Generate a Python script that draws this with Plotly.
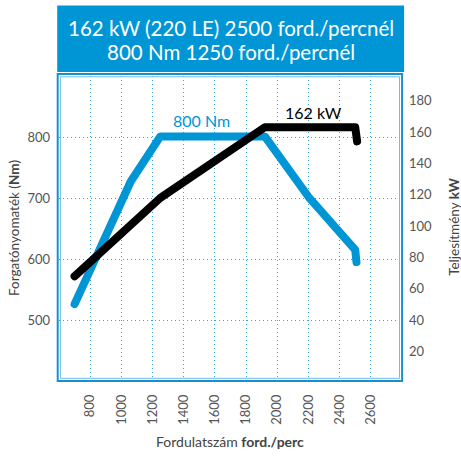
import plotly.graph_objects as go

# ---- data ----
rpm_torque = [700, 1060, 1250, 1920, 2200, 2500, 2508]
torque_nm = [526, 727, 801, 801, 702, 615, 595]

rpm_power = [700, 1000, 1250, 1920, 2500, 2512]
power_kw = [68, 95.5, 118, 163, 163, 154]

x_ticks = [800, 1000, 1200, 1400, 1600, 1800, 2000, 2200, 2400, 2600]
left_ticks = [500, 600, 700, 800]
right_ticks = [20, 40, 60, 80, 100, 120, 140, 160, 180]

title_line1 = "162 kW (220 LE) 2500 ford./percnél"
title_line2 = "800 Nm 1250 ford./percnél"

BLUE = "#0096d6"
GRID = "#33a3da"
FONT = "Lato"

fig = go.Figure()
fig.add_trace(go.Scatter(x=rpm_torque, y=torque_nm, mode="lines",
                         line=dict(color=BLUE, width=8), yaxis="y", showlegend=False))
fig.add_trace(go.Scatter(x=rpm_power, y=power_kw, mode="lines",
                         line=dict(color="black", width=8), yaxis="y2", showlegend=False))

def px2x(px):
    return (px - 58.8) / 343.1

def py2y(py):
    return (381.1 - py) / 304.7

shapes = [
    dict(type="rect", xref="paper", yref="paper", x0=px2x(57), x1=px2x(404),
         y0=py2y(72.3), y1=py2y(6), fillcolor=BLUE, line=dict(width=0), layer="above"),
    dict(type="rect", xref="paper", yref="paper", x0=px2x(57.5), x1=px2x(402),
         y0=py2y(381), y1=py2y(74.5), line=dict(color="#1890cf", width=2)),
    dict(type="rect", xref="paper", yref="paper", x0=px2x(60.2), x1=px2x(399.4),
         y0=py2y(378.4), y1=py2y(77.2), line=dict(color="#6cc0ea", width=1)),
]

annotations = [
    dict(text=title_line1, xref="paper", yref="paper", x=px2x(231), y=py2y(28.5),
         showarrow=False, font=dict(family=FONT, size=20.5, color="white"),
         xanchor="center", yanchor="middle"),
    dict(text=title_line2, xref="paper", yref="paper", x=px2x(230.5), y=py2y(52.5),
         showarrow=False, font=dict(family=FONT, size=20.5, color="white"),
         xanchor="center", yanchor="middle"),
    dict(text="800 Nm", xref="x", yref="y", x=1512, y=827, showarrow=False,
         font=dict(family=FONT, size=16, color=BLUE)),
    dict(text="162 kW", xref="x", yref="y", x=2234, y=840, showarrow=False,
         font=dict(family=FONT, size=16, color="black")),
    dict(text="Forgatónyomaték (<b>Nm</b>)", xref="paper", yref="paper",
         x=px2x(14), y=py2y(228), textangle=-90, showarrow=False,
         font=dict(family=FONT, size=13.5, color="#444"), xanchor="center", yanchor="middle"),
    dict(text="Teljesítmény <b>kW</b>", xref="paper", yref="paper",
         x=px2x(454), y=py2y(227), textangle=-90, showarrow=False,
         font=dict(family=FONT, size=13.5, color="#444"), xanchor="center", yanchor="middle"),
    dict(text="Fordulatszám <b>ford./perc</b>", xref="paper", yref="paper",
         x=px2x(230), y=py2y(441.7), showarrow=False,
         font=dict(family=FONT, size=14, color="#444"), xanchor="center", yanchor="middle"),
]

fig.update_layout(
    width=461, height=456,
    margin=dict(l=59, r=59, t=76, b=75, pad=0),
    paper_bgcolor="white", plot_bgcolor="white",
    font=dict(family=FONT, color="#555", size=13),
    xaxis=dict(range=[600, 2800], tickvals=x_ticks, ticktext=[str(v) for v in x_ticks],
               tickangle=-90, showgrid=True, gridcolor=GRID, griddash="1px,3px", gridwidth=1,
               zeroline=False, showline=False, ticks="", ticklabelstandoff=10,
               tickfont=dict(family=FONT, size=13, color="#555")),
    yaxis=dict(range=[400, 900], tickvals=left_ticks, showgrid=True, gridcolor=GRID,
               griddash="1px,3px", gridwidth=1, zeroline=False, showline=False, ticks="",
               ticklabelstandoff=8, tickfont=dict(family=FONT, size=13, color="#555")),
    yaxis2=dict(range=[1.2, 195.7], tickvals=right_ticks, overlaying="y", side="right",
                showgrid=False, zeroline=False, showline=False, ticks="",
                ticklabelstandoff=6, tickfont=dict(family=FONT, size=13, color="#555")),
    shapes=shapes, annotations=annotations,
)

post = """
document.body.style.margin='0';
document.documentElement.style.margin='0';
document.querySelectorAll('.scatterlayer .js-line').forEach(function(p){
  p.style.strokeLinecap='round'; p.style.strokeLinejoin='round';
});
"""
fig.write_html("out.html", post_script=post, config={"displayModeBar": False})
